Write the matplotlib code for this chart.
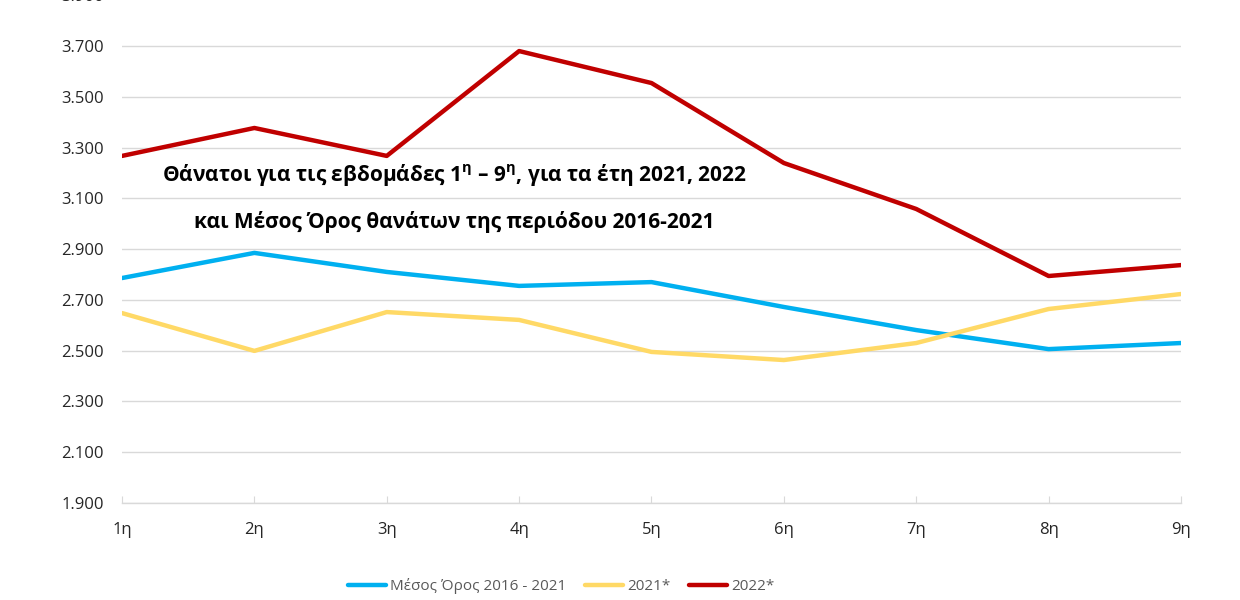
import matplotlib
matplotlib.use("Agg")
import matplotlib.pyplot as plt
from matplotlib.ticker import FuncFormatter

weeks = ["1η", "2η", "3η", "4η", "5η", "6η", "7η", "8η", "9η"]
avg_2016_2021 = [2786, 2885, 2810, 2755, 2770, 2672, 2581, 2506, 2530]
y2021 = [2648, 2499, 2652, 2621, 2495, 2463, 2530, 2664, 2723]
y2022 = [3267, 3377, 3267, 3680, 3554, 3239, 3058, 2794, 2837]
series_labels = ["Μέσος Όρος 2016 - 2021", "2021*", "2022*"]
y_ticks = [1900, 2100, 2300, 2500, 2700, 2900, 3100, 3300, 3500, 3700, 3900]
title_line1 = r"Θάνατοι για τις εβδομάδες 1$^{\mathbf{η}}$ – 9$^{\mathbf{η}}$, για τα έτη 2021, 2022"
title_line2 = "και Μέσος Όρος θανάτων της περιόδου 2016-2021"

plt.rcParams['font.family'] = ['Open Sans', 'DejaVu Sans']
plt.rcParams['mathtext.fontset'] = 'custom'
plt.rcParams['mathtext.rm'] = 'Open Sans'
plt.rcParams['mathtext.bf'] = 'Open Sans:bold'

fig = plt.figure(figsize=(12.4, 6), dpi=100)
ax = fig.add_axes([0.0984, 0.1617, 0.854, 0.8463])

x = list(range(len(weeks)))
ax.plot(x, avg_2016_2021, color="#00B0F0", lw=3.2, label=series_labels[0], solid_capstyle='round')
ax.plot(x, y2021, color="#FFD966", lw=3.2, label=series_labels[1], solid_capstyle='round')
ax.plot(x, y2022, color="#C00000", lw=3.2, label=series_labels[2], solid_capstyle='round')

ax.set_ylim(1900, 3900)
ax.set_xlim(0, len(weeks) - 1)
ax.set_yticks(y_ticks)
ax.yaxis.set_major_formatter(FuncFormatter(lambda v, p: f"{v:,.0f}".replace(",", ".")))
ax.set_xticks(x)
ax.set_xticklabels(weeks)
ax.grid(axis='y', color="#D9D9D9", lw=1.0)
ax.set_axisbelow(True)
for s in ['top', 'right', 'left']:
    ax.spines[s].set_visible(False)
ax.spines['bottom'].set_color("#D9D9D9")
ax.spines['bottom'].set_linewidth(1.0)
ax.tick_params(axis='y', length=0, labelsize=12, pad=13, colors="#262626")
ax.tick_params(axis='x', direction='in', length=5, color="#D9D9D9", labelsize=12, pad=14, labelcolor="#262626")

fig.text(454 / 1240, 1 - 175 / 600, title_line1, ha='center', va='center',
         fontsize=15, fontweight='bold', color="#000000")
fig.text(454 / 1240, 1 - 222 / 600, title_line2, ha='center', va='center',
         fontsize=15, fontweight='bold', color="#000000")

leg = fig.legend(loc='center', bbox_to_anchor=(561 / 1240, 1 - 586 / 600), ncol=3, frameon=False,
                 fontsize=11, handlelength=2.5, handletextpad=0.27, columnspacing=1.2)
for t in leg.get_texts():
    t.set_color("#595959")

fig.savefig("out.png", dpi=100)
